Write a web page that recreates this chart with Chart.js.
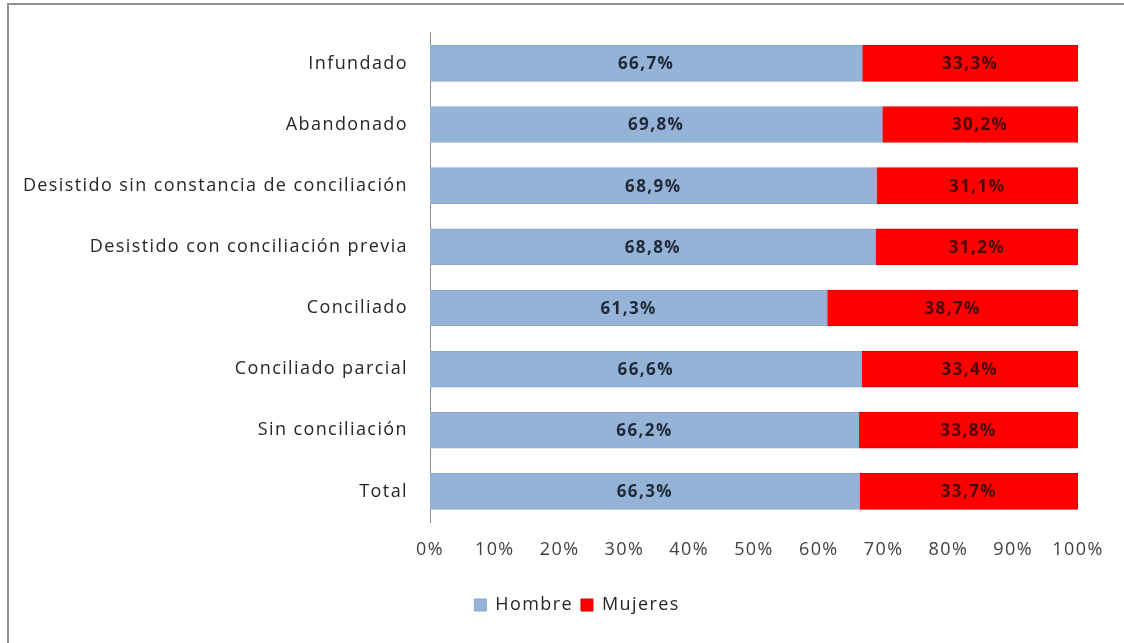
<!DOCTYPE html>
<html>
<head>
<meta charset="utf-8">
<script src="https://cdn.jsdelivr.net/npm/chart.js@4"></script>
<style>
    html, body { margin: 0; padding: 0; background: #fff; overflow: hidden; }
    #wrap { position: relative; width: 1124px; height: 643px; }
    #frame {
        position: absolute; left: 7px; top: 3px; width: 1200px; height: 700px;
        border-left: 2px solid #8f8f8f; border-top: 2px solid #8f8f8f; pointer-events: none;
    }
</style>
</head>
<body>
<div id="wrap">
    <canvas id="chart" width="1124" height="643"></canvas>
    <div id="frame"></div>
</div>
<script>
const categories = [
    'Infundado',
    'Abandonado',
    'Desistido sin constancia de conciliación',
    'Desistido con conciliación previa',
    'Conciliado',
    'Conciliado parcial',
    'Sin conciliación',
    'Total'
];
const hombre = [66.7, 69.8, 68.9, 68.8, 61.3, 66.6, 66.2, 66.3];
const mujeres = [33.3, 30.2, 31.1, 31.2, 38.7, 33.4, 33.8, 33.7];
const xTicks = [0, 10, 20, 30, 40, 50, 60, 70, 80, 90, 100];

const FONT = '"Open Sans", "DejaVu Sans", sans-serif';
const SPACING = '1.4px';
const fmt = v => v.toFixed(1).replace('.', ',') + '%';

// the original text is widely spaced, so spread the letters a bit
const spread = {
    id: 'spread',
    beforeLayout(chart) { chart.ctx.letterSpacing = SPACING; },
    beforeDraw(chart) { chart.ctx.letterSpacing = SPACING; }
};

// legend sits a little right of the canvas centre in the original
const legendShift = {
    id: 'legendShift',
    afterLayout(chart) { chart.legend.left += 76; }
};

// draws the value in the middle of each bar segment
const barLabels = {
    id: 'barLabels',
    afterDatasetsDraw(chart) {
        const ctx = chart.ctx;
        ctx.save();
        ctx.font = 'bold 17px ' + FONT;
        ctx.textAlign = 'center';
        ctx.textBaseline = 'middle';
        chart.data.datasets.forEach((ds, i) => {
            chart.getDatasetMeta(i).data.forEach((bar, j) => {
                const p = bar.getProps(['x', 'y', 'base'], true);
                ctx.fillStyle = ds.labelColor;
                ctx.fillText(fmt(ds.data[j]), (p.x + p.base) / 2, p.y + 1);
            });
        });
        ctx.restore();
    }
};

new Chart('chart', {
    type: 'bar',
    data: {
        labels: categories,
        datasets: [
            {label: 'Hombre', data: hombre, backgroundColor: '#95B3D7', borderColor: '#8aa8cf',
                borderWidth: 1, labelColor: '#1f2937'},
            {label: 'Mujeres', data: mujeres, backgroundColor: '#FF0000', borderColor: '#d40000',
                borderWidth: 1, labelColor: '#4a0606'}
        ]
    },
    options: {
        indexAxis: 'y',
        responsive: false,
        animation: false,
        barThickness: 36,
        layout: {padding: {top: 32, right: 46, bottom: 19, left: 0}},
        scales: {
            x: {
                stacked: true, min: 0, max: 100,
                afterBuildTicks: s => { s.ticks = xTicks.map(v => ({value: v})); },
                afterFit: s => { s.height = 66; },
                grid: {display: false, drawTicks: false},
                border: {display: false},
                ticks: {padding: 17, color: '#404040', font: {family: FONT, size: 18},
                    callback: v => v + '%'}
            },
            y: {
                stacked: true,
                afterFit: s => { s.width = 430; },
                grid: {display: false, drawTicks: false},
                border: {display: true, color: '#8c8c8c', width: 1},
                ticks: {padding: 22, color: '#262626', font: {family: FONT, size: 18}}
            }
        },
        plugins: {
            legend: {
                position: 'bottom',
                labels: {boxWidth: 12, boxHeight: 12, padding: 8, color: '#262626',
                    font: {family: FONT, size: 18}}
            },
            tooltip: {enabled: false}
        }
    },
    plugins: [spread, legendShift, barLabels]
});
</script>
</body>
</html>
